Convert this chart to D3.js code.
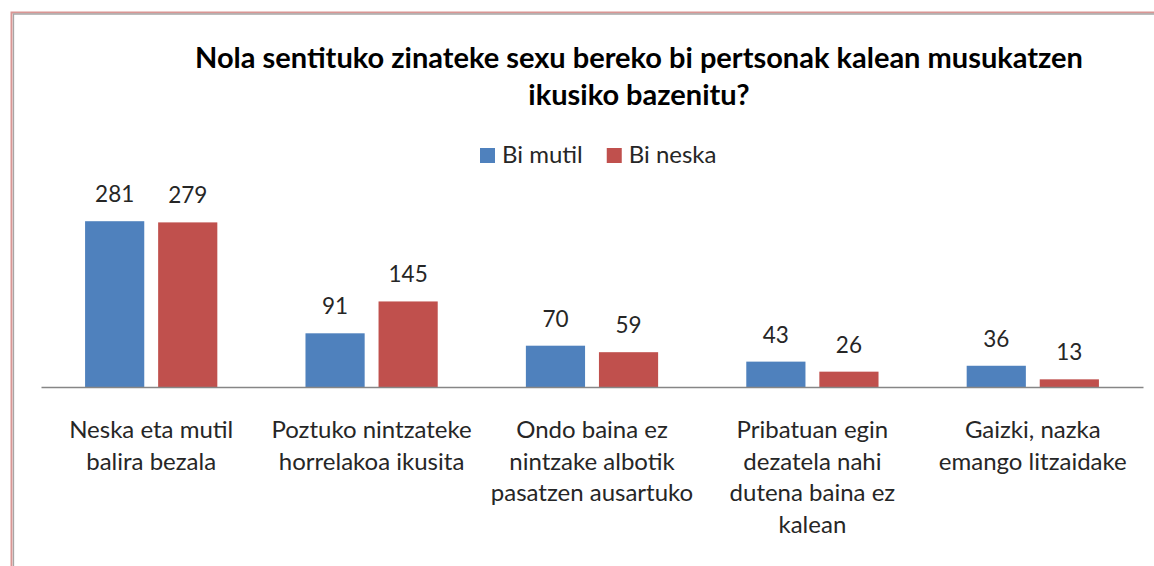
<!DOCTYPE html>
<html>
<head>
<meta charset="utf-8">
<script src="https://cdn.jsdelivr.net/npm/d3@7"></script>
<style>
  html, body { margin: 0; padding: 0; background: #fff; }
  svg { display: block; font-family: Lato, "Open Sans", sans-serif; }
</style>
</head>
<body>
<div id="chart"></div>
<script>
// data
var categories = [
  ["Neska eta mutil", "balira bezala"],
  ["Poztuko nintzateke", "horrelakoa ikusita"],
  ["Ondo baina ez", "nintzake albotik", "pasatzen ausartuko"],
  ["Pribatuan egin", "dezatela nahi", "dutena baina ez", "kalean"],
  ["Gaizki, nazka", "emango litzaidake"]
];
var series = ["Bi mutil", "Bi neska"];
var biMutil = [281, 91, 70, 43, 36];
var biNeska = [279, 145, 59, 26, 13];
var colors = ["#4F81BD", "#C0504D"];
var titleLines = ["Nola sentituko zinateke sexu bereko bi pertsonak kalean musukatzen", "ikusiko bazenitu?"];

var width = 1154, height = 566;
var plotLeft = 41, plotRight = 1143, baseY = 387;

var svg = d3.select("#chart").append("svg")
  .attr("width", width)
  .attr("height", height);

// frame of the chart area (cut off on right and bottom)
svg.append("path")
  .attr("d", "M11.5," + height + "V12.5H" + width)
  .attr("fill", "none").attr("stroke", "#D99694").attr("stroke-width", 2);
svg.append("path")
  .attr("d", "M13.5," + height + "V14H" + width)
  .attr("fill", "none").attr("stroke", "#A6A6A6").attr("stroke-width", 1.3);

// title
svg.append("g").selectAll("text")
  .data(titleLines)
  .join("text")
  .attr("x", 639)
  .attr("y", function(d, i) { return 68 + i * 37; })
  .attr("text-anchor", "middle")
  .attr("font-weight", "bold")
  .attr("font-size", 29)
  .attr("fill", "#000")
  .text(function(d) { return d; });

// scales
var idx = d3.range(categories.length);
var x0 = d3.scaleBand().domain(idx).range([plotLeft, plotRight]).paddingInner(0.4).paddingOuter(0.2);
var x1 = d3.scaleBand().domain([0, 1]).range([0, x0.bandwidth()]).paddingInner(0.19);
var y = d3.scaleLinear().domain([0, 300]).range([baseY, 210]);

var rows = idx.map(function(i) { return [biMutil[i], biNeska[i]]; });

var groups = svg.append("g").selectAll("g")
  .data(rows)
  .join("g")
  .attr("transform", function(d, i) { return "translate(" + x0(i) + ",0)"; });

groups.selectAll("rect")
  .data(function(d) { return d; })
  .join("rect")
  .attr("x", function(d, j) { return x1(j); })
  .attr("y", function(d) { return y(d); })
  .attr("width", x1.bandwidth())
  .attr("height", function(d) { return baseY - y(d); })
  .attr("fill", function(d, j) { return colors[j]; });

groups.selectAll("text")
  .data(function(d) { return d; })
  .join("text")
  .attr("x", function(d, j) { return x1(j) + x1.bandwidth() / 2; })
  .attr("y", function(d) { return y(d) - 19; })
  .attr("text-anchor", "middle")
  .attr("font-size", 22.5)
  .attr("fill", "#262626")
  .text(function(d) { return d; });

// category axis
var xAxis = svg.append("g")
  .attr("transform", "translate(0," + baseY + ")")
  .call(d3.axisBottom(x0).tickSize(0).tickFormat(""));
xAxis.select(".domain").attr("stroke", "#868686").attr("stroke-width", 1.3);

var catLabels = svg.append("g").selectAll("text")
  .data(categories)
  .join("text")
  .attr("x", function(d, i) { return x0(i) + x0.bandwidth() / 2; })
  .attr("y", 438)
  .attr("text-anchor", "middle")
  .attr("font-size", 24)
  .attr("fill", "#262626");
catLabels.selectAll("tspan")
  .data(function(d) { return d; })
  .join("tspan")
  .attr("x", function() { return d3.select(this.parentNode).attr("x"); })
  .attr("dy", function(d, i) { return i === 0 ? 0 : 31.5; })
  .text(function(d) { return d; });

// legend
var legend = svg.append("g");
var lx = 480;
series.forEach(function(s, i) {
  legend.append("rect")
    .attr("x", lx).attr("y", 148)
    .attr("width", 15).attr("height", 15)
    .attr("fill", colors[i]);
  var t = legend.append("text")
    .attr("x", lx + 22).attr("y", 163)
    .attr("font-size", 24)
    .attr("fill", "#262626")
    .text(s);
  lx += 22 + t.node().getComputedTextLength() + 24;
});
</script>
</body>
</html>
